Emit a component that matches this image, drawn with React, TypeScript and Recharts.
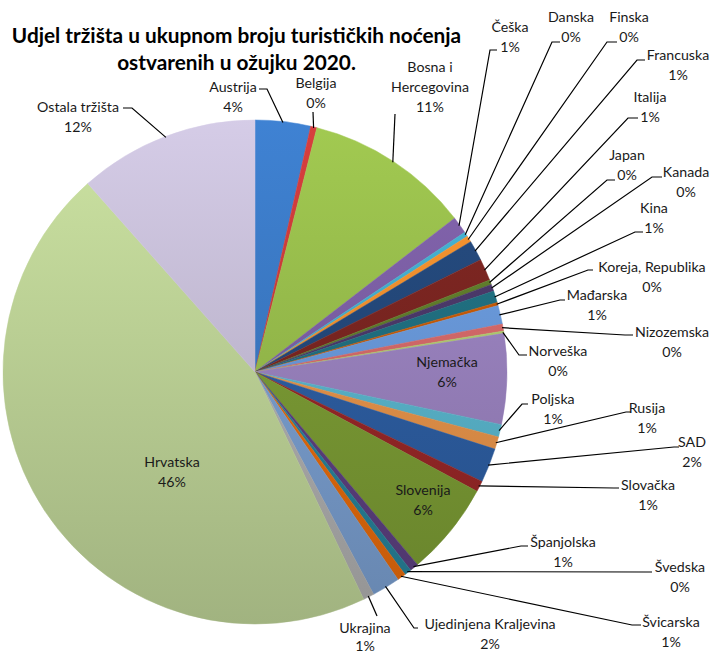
import React from 'react';
import { PieChart, Pie, Cell } from 'recharts';

const categories = [
  'Austrija', 'Belgija', 'Bosna i Hercegovina', 'Češka', 'Danska', 'Finska', 'Francuska',
  'Italija', 'Japan', 'Kanada', 'Kina', 'Koreja, Republika', 'Mađarska', 'Nizozemska',
  'Norveška', 'Njemačka', 'Poljska', 'Rusija', 'SAD', 'Slovačka', 'Slovenija',
  'Španjolska', 'Švedska', 'Švicarska', 'Ujedinjena Kraljevina', 'Ukrajina', 'Hrvatska',
  'Ostala tržišta',
];

const shares = [
  3.55, 0.4, 10.6, 1.1, 0.3, 0.4, 1.3,
  1.4, 0.3, 0.45, 0.75, 0.2, 1.2, 0.45,
  0.15, 5.8, 0.8, 0.8, 2.2, 0.7, 6.0,
  0.55, 0.45, 0.55, 1.8, 0.7, 45.55,
  11.55,
];

const colors = [
  '#3d7dcb', '#d03c3c', '#9cc24e', '#8062aa', '#45b2d2', '#f7932f', '#254a7e',
  '#7e2622', '#62802c', '#4d3a6c', '#217284', '#cc5c06', '#6c9de0', '#da6c6c',
  '#b4d072', '#9e86c4', '#5cbad2', '#ec974c', '#2e60a6', '#9c2828', '#7fa036',
  '#5f4284', '#28869e', '#ec6e0c', '#7ea3d6', '#b4b4b4', '#c4da9c',
  '#cdc4de',
];

// label layout: text centre x, first line centre y, leader attach point, elbow offset
const labelLayout = [
  { tx: 233, ty: 87, ax: 259, ay: 89, dx: 8 },
  { tx: 316, ty: 83, ax: 313, ay: 112, dx: 0 },
  { tx: 430, ty: 67, ax: 395, ay: 114, dx: 0, wrap: 11 },
  { tx: 510, ty: 27, ax: 497, ay: 50, dx: -7 },
  { tx: 571, ty: 17, ax: 560, ay: 42, dx: -8 },
  { tx: 629, ty: 17, ax: 617, ay: 42, dx: -10 },
  { tx: 678, ty: 55, ax: 645, ay: 60, dx: -8 },
  { tx: 650, ty: 97, ax: 638, ay: 118, dx: -10 },
  { tx: 627, ty: 155, ax: 615, ay: 180, dx: -8 },
  { tx: 686, ty: 172, ax: 662, ay: 177, dx: -10 },
  { tx: 654, ty: 208, ax: 643, ay: 232, dx: -8 },
  { tx: 652, ty: 267, ax: 593, ay: 270, dx: -5 },
  { tx: 597, ty: 295, ax: 565, ay: 300, dx: -5 },
  { tx: 672, ty: 332, ax: 633, ay: 335, dx: -8 },
  { tx: 558, ty: 351, ax: 527, ay: 355, dx: -8 },
  { tx: 447, ty: 362, inside: true },
  { tx: 553, ty: 399, ax: 528, ay: 404, dx: -6 },
  { tx: 647, ty: 408, ax: 631, ay: 412, dx: -5 },
  { tx: 692, ty: 442, ax: 679, ay: 447, dx: -5 },
  { tx: 648, ty: 485, ax: 619, ay: 488, dx: -5 },
  { tx: 423, ty: 490, inside: true },
  { tx: 563, ty: 542, ax: 528, ay: 546, dx: -7 },
  { tx: 680, ty: 567, ax: 652, ay: 572, dx: -6 },
  { tx: 671, ty: 622, ax: 641, ay: 625, dx: -9 },
  { tx: 490, ty: 624, ax: 418, ay: 628, dx: -4 },
  { tx: 365, ty: 628, ax: 377, ay: 616, dx: 0, lh: 18 },
  { tx: 172, ty: 462, inside: true },
  { tx: 78, ty: 107, ax: 123, ay: 108, dx: 9 },
];

const data = categories.map((name, i) => ({ name, value: shares[i] }));

const RADIAN = Math.PI / 180;
const CX = 255;
const CY = 372;
const R = 252;
const FONT = 'Lato, "Open Sans", sans-serif';
const FS = 14.2;
const LH = 20;

function shade(hex: string, f: number) {
  const n = parseInt(hex.slice(1), 16);
  const ch = (v: number) => Math.max(0, Math.min(255, Math.round(v * f)));
  const r = ch((n >> 16) & 255);
  const g = ch((n >> 8) & 255);
  const b = ch(n & 255);
  return `rgb(${r},${g},${b})`;
}

function wrapText(text: string, max: number) {
  const words = text.split(' ');
  const lines: string[] = [];
  let cur = '';
  words.forEach((w) => {
    const cand = cur ? cur + ' ' + w : w;
    if (cand.length > max && cur) {
      lines.push(cur);
      cur = w;
    } else {
      cur = cand;
    }
  });
  if (cur) lines.push(cur);
  return lines;
}

const renderLabel = (props: any) => {
  const { cx, cy, midAngle, outerRadius, percent, index } = props;
  const L: any = labelLayout[index];
  const name = categories[index];
  const pct = `${Math.round(percent * 100)}%`;
  const lines = wrapText(name, L.wrap ?? 100).concat(pct);
  const lh = L.lh ?? LH;
  let leader = null;
  if (!L.inside) {
    const r = outerRadius - 1;
    const ex = cx + r * Math.cos(-midAngle * RADIAN);
    const ey = cy + r * Math.sin(-midAngle * RADIAN);
    const pts = `${ex},${ey} ${L.ax + L.dx},${L.ay} ${L.ax},${L.ay}`;
    leader = <polyline points={pts} fill="none" stroke="#000" strokeWidth={1.2} />;
  }
  return (
    <g key={`lbl-${index}`}>
      {leader}
      <text textAnchor="middle" fontFamily={FONT} fontSize={FS} fill="#1a1a1a">
        {lines.map((t, k) => (
          <tspan key={k} x={L.tx} y={L.ty + k * lh + FS * 0.36}>
            {t}
          </tspan>
        ))}
      </text>
    </g>
  );
};

export default function App() {
  return (
    <div style={{ position: 'absolute', left: 0, top: 0, width: 712, height: 655, background: '#fff' }}>
      <div
        style={{
          position: 'absolute',
          left: 0,
          top: 21,
          width: 473,
          textAlign: 'center',
          fontFamily: FONT,
          fontWeight: 700,
          fontSize: 20.8,
          lineHeight: '27px',
          color: '#000',
          whiteSpace: 'nowrap',
        }}
      >
        Udjel tržišta u ukupnom broju turističkih noćenja
        <br />
        ostvarenih u ožujku 2020.
      </div>
      <PieChart width={712} height={655} margin={{ top: 0, right: 0, bottom: 0, left: 0 }}>
        <defs>
          {colors.map((c, i) => (
            <linearGradient key={i} id={`sl${i}`} gradientUnits="userSpaceOnUse" x1={0} y1={CY - R} x2={0} y2={CY + R}>
              <stop offset="0%" stopColor={shade(c, 1.04)} />
              <stop offset="100%" stopColor={shade(c, 0.82)} />
            </linearGradient>
          ))}
        </defs>
        <Pie
          data={data}
          dataKey="value"
          nameKey="name"
          cx={CX}
          cy={CY}
          outerRadius={R}
          innerRadius={0}
          startAngle={90}
          endAngle={-270}
          isAnimationActive={false}
          labelLine={false}
          label={renderLabel}
        >
          {data.map((d, i) => (
            <Cell key={d.name} fill={`url(#sl${i})`} stroke={`url(#sl${i})`} strokeWidth={0.5} />
          ))}
        </Pie>
      </PieChart>
    </div>
  );
}
